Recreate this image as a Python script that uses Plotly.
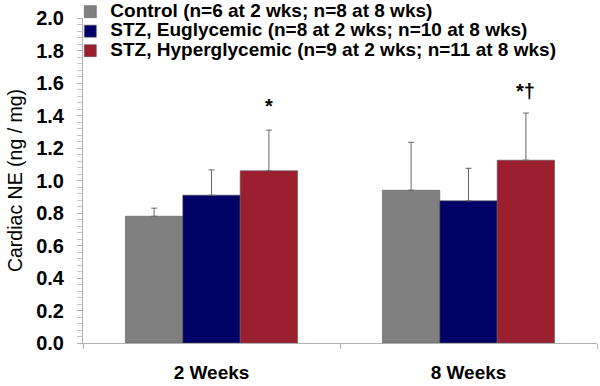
import plotly.graph_objects as go

categories = ["2 Weeks", "8 Weeks"]
series_names = [
    "Control (n=6 at 2 wks; n=8 at 8 wks)",
    "STZ, Euglycemic (n=8 at 2 wks; n=10 at 8 wks)",
    "STZ, Hyperglycemic (n=9 at 2 wks; n=11 at 8 wks)",
]
control = [0.78, 0.94]
eugly = [0.91, 0.875]
hyper = [1.06, 1.125]
control_err = [0.05, 0.295]
eugly_err = [0.155, 0.20]
hyper_err = [0.25, 0.29]
sig_labels = ["*", "*†"]
sig_y = [1.46, 1.55]
yticks = [0.0, 0.2, 0.4, 0.6, 0.8, 1.0, 1.2, 1.4, 1.6, 1.8, 2.0]

colors = ["#808080", "#000066", "#9b1f2e"]
FONT = "Liberation Sans, Arial, sans-serif"
BARGAP = 0.33

fig = go.Figure()
for name, vals, errs, col in zip(series_names, [control, eugly, hyper],
                                 [control_err, eugly_err, hyper_err], colors):
    fig.add_trace(go.Bar(
        x=categories, y=vals,
        name='<span style="font-size:19px">' + name + '</span>',
        marker=dict(color=col, line=dict(color="#5a5a5a", width=0.6)),
        error_y=dict(type="data", array=errs, arrayminus=[0] * len(errs),
                     symmetric=False, color="#666666", thickness=1, width=3),
    ))

bar_w = (1 - BARGAP) / 3
for i, (lab, yy) in enumerate(zip(sig_labels, sig_y)):
    fig.add_annotation(x=i + bar_w, y=yy, xref="x", yref="y", text="<b>" + lab + "</b>",
                       showarrow=False, font=dict(family=FONT, size=20, color="black"))

fig.update_layout(
    width=600, height=386,
    margin=dict(l=83, r=3, t=18, b=43, autoexpand=False),
    paper_bgcolor="white", plot_bgcolor="white",
    barmode="group", bargap=BARGAP, bargroupgap=0,
    font=dict(family=FONT, color="black"),
    showlegend=True,
    legend=dict(x=-0.013, y=1.065, xanchor="left", yanchor="top",
                bgcolor="rgba(0,0,0,0)", tracegroupgap=0,
                font=dict(family=FONT, size=12.7, color="black", weight="bold"),
                itemwidth=30, indentation=-6),
    xaxis=dict(showline=True, linecolor="#b0b0b0", linewidth=1,
               ticks="outside", tickson="boundaries", ticklen=5, tickcolor="#b0b0b0",
               ticklabelstandoff=12,
               tickfont=dict(family=FONT, size=19, color="black", weight="bold"),
               showgrid=False, zeroline=False),
    yaxis=dict(range=[0, 2.0], tickvals=yticks, tickformat=".1f",
               showline=True, linecolor="#b0b0b0", linewidth=1,
               ticks="outside", ticklen=5, tickcolor="#b0b0b0",
               ticklabelstandoff=9,
               minor=dict(dtick=0.04, ticks="outside", ticklen=5, tickcolor="#c8c8c8"),
               tickfont=dict(family=FONT, size=20, color="black", weight="bold"),
               showgrid=False, zeroline=False,
               title=dict(text="Cardiac NE (ng / mg)", standoff=8,
                          font=dict(family=FONT, size=19.5, color="black"))),
    yaxis2=dict(range=[0, 2.0], tickvals=yticks, overlaying="y", side="left",
                ticks="inside", ticklen=6, tickcolor="#b0b0b0",
                showticklabels=False, showgrid=False, zeroline=False, showline=False),
)

fig.write_html("out.html", config={"displayModeBar": False},
               post_script="document.body.style.margin='0';")
